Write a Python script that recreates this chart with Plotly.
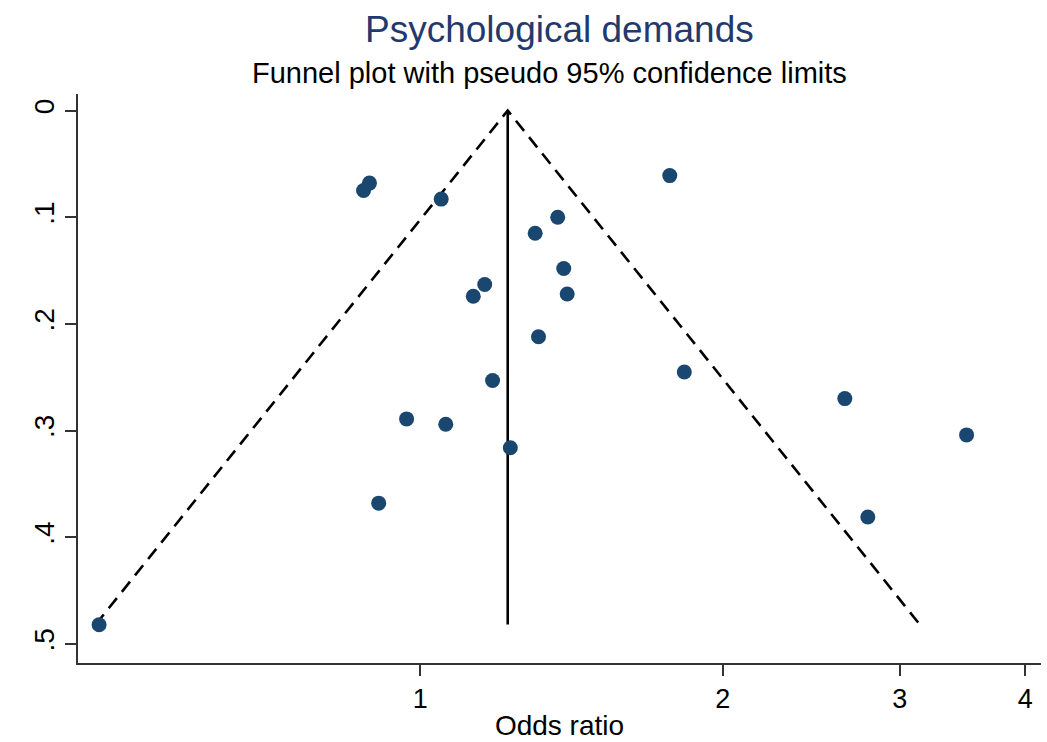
import numpy as np
import plotly.graph_objects as go

# Study estimates (odds ratio, standard error of log OR)
odds_ratio = [0.479, 0.878, 0.890, 1.049, 1.370, 1.301, 1.771, 1.389, 1.159, 1.129,
              1.400, 1.311, 1.831, 1.180, 2.645, 0.969, 1.060, 1.229, 3.496, 0.909, 2.788]
std_err = [0.482, 0.075, 0.068, 0.083, 0.100, 0.115, 0.061, 0.148, 0.163, 0.174,
           0.172, 0.212, 0.245, 0.253, 0.270, 0.289, 0.294, 0.316, 0.304, 0.368, 0.381]

pooled_or = 1.2217
se_max = 0.4818

x_ticks = [1, 2, 3, 4]
y_ticks = [0, 0.1, 0.2, 0.3, 0.4, 0.5]
y_tick_labels = ["0", ".1", ".2", ".3", ".4", ".5"]

lo = float(np.exp(np.log(pooled_or) - 1.96 * se_max))
hi = float(np.exp(np.log(pooled_or) + 1.96 * se_max))

fig = go.Figure()
fig.add_trace(go.Scatter(x=[lo, pooled_or, hi], y=[se_max, 0, se_max], mode="lines",
                         line=dict(color="black", width=2.6, dash="13px,8px"),
                         hoverinfo="skip", showlegend=False))
fig.add_trace(go.Scatter(x=[pooled_or, pooled_or], y=[0, se_max], mode="lines",
                         line=dict(color="black", width=2.6), hoverinfo="skip", showlegend=False))
fig.add_trace(go.Scatter(x=odds_ratio, y=std_err, mode="markers",
                         marker=dict(color="#1a476f", size=15, line=dict(width=0)),
                         showlegend=False))

font = "Liberation Sans, Arial, sans-serif"
fig.update_layout(
    width=1047, height=742,
    margin=dict(l=78, r=6, t=94, b=74),
    paper_bgcolor="white", plot_bgcolor="white",
    font=dict(family=font, color="black", size=27),
    xaxis=dict(type="log", range=[np.log10(0.4564), np.log10(4.146)],
               tickvals=x_ticks, ticktext=[str(v) for v in x_ticks],
               showgrid=False, zeroline=False, showline=True, linecolor="#333", linewidth=2,
               ticks="outside", ticklen=11, tickwidth=1.5, tickcolor="#333",
               tickfont=dict(size=27),
               title=dict(text="Odds ratio", font=dict(size=28), standoff=2)),
    yaxis=dict(range=[0.5178, -0.0155], tickvals=y_ticks, ticktext=y_tick_labels,
               tickangle=-90, showgrid=False, zeroline=False, showline=True,
               linecolor="#333", linewidth=2, ticks="outside", ticklen=11,
               tickwidth=1.5, tickcolor="#333", tickfont=dict(size=28)),
    annotations=[
        dict(text="Psychological demands", x=0.5, y=1.113, xref="paper", yref="paper",
             showarrow=False, yanchor="middle", font=dict(size=37, color="#24396b")),
        dict(text="Funnel plot with pseudo 95% confidence limits", x=0.49, y=1.0366,
             xref="paper", yref="paper", showarrow=False, yanchor="middle",
             font=dict(size=29, color="black")),
    ],
)
fig.write_html("out.html")
